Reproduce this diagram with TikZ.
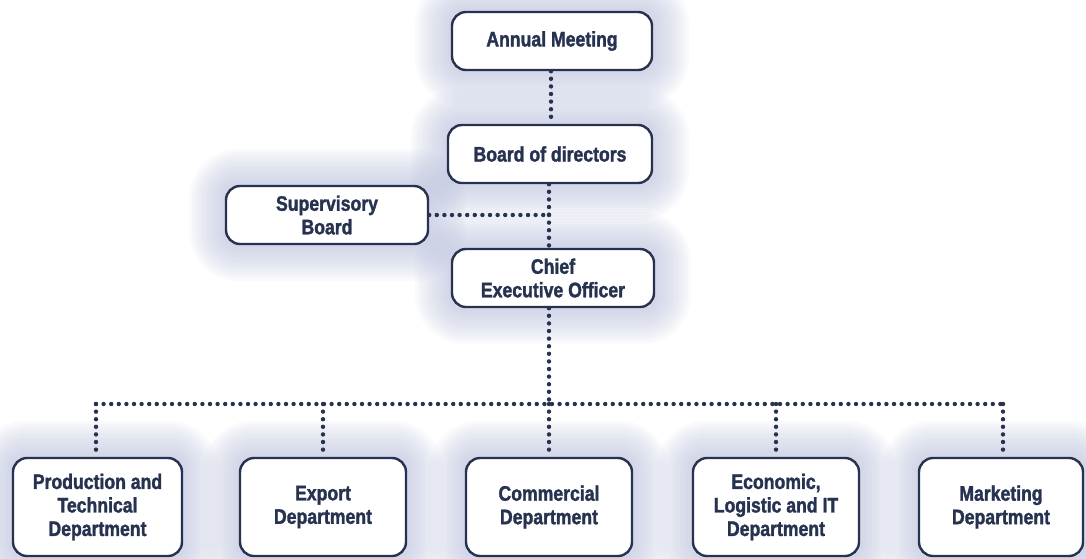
\documentclass[tikz,border=0pt]{standalone}
\usepackage{fontspec}
\setmainfont{Liberation Sans}[FakeStretch=0.84, BoldFeatures={FakeBold=1.6}]
\usetikzlibrary{backgrounds}
\definecolor{navy}{HTML}{26324F}
\definecolor{haze}{HTML}{B4BBD8}
\tikzset{
  x=1pt,y=-1pt,
  box/.style={draw=navy, line width=2.4pt, fill=white, rounded corners=14pt,
    text=navy, font=\bfseries\fontsize{21}{23.5}\selectfont, align=center,
    inner sep=0pt},
  dotline/.style={navy, line width=4.4pt, line cap=round, dash pattern=on 0pt off 7.6pt},
}
\begin{document}
\begin{tikzpicture}
\useasboundingbox (0,0) rectangle (1086,558);
\node[box, minimum width=200pt, minimum height=58pt] (am) at (552,41) {Annual Meeting};
\node[box, minimum width=204pt, minimum height=58pt] (bd) at (550,154) {Board of directors};
\node[box, minimum width=202pt, minimum height=58pt] (sb) at (327,215) {Supervisory\\Board};
\node[box, minimum width=202pt, minimum height=58pt] (ceo) at (553,278) {Chief\\Executive Officer};
\node[box, minimum width=169pt, minimum height=98pt] (pt) at (97.5,507) {Production and\\Technical\\Department};
\node[box, minimum width=166pt, minimum height=98pt] (ex) at (323,507) {Export\\Department};
\node[box, minimum width=166pt, minimum height=98pt] (co) at (549,507) {Commercial\\Department};
\node[box, minimum width=166pt, minimum height=98pt] (ec) at (776,507) {Economic,\\Logistic and IT\\Department};
\node[box, minimum width=164pt, minimum height=98pt] (mk) at (1001,507) {Marketing\\Department};
\begin{scope}[on background layer]
  \foreach \n in {am,bd,sb,ceo,pt,ex,co,ec,mk}{
    \foreach \r in {3,6,...,36}{
      \fill[haze, opacity=0.07, rounded corners=14pt+\r pt]
        ([shift={(-\r pt,-\r pt)}]\n.south west) rectangle ([shift={(\r pt,\r pt)}]\n.north east);
    }
  }
\end{scope}
\coordinate (j1) at (549,215);
\coordinate (j2) at (549,404);
\coordinate (hl) at (96,404);
\coordinate (hr) at (1003,404);
\draw[dotline] (am.south -| 551,0) -- (bd.north -| 551,0);
\draw[dotline] (bd.south -| j1) -- (j1);
\draw[dotline] (sb.east) -- (j1);
\draw[dotline] (j1) -- (ceo.north -| j1);
\draw[dotline] (ceo.south -| j2) -- (j2);
\draw[dotline] (hl) -- (hr);
\draw[dotline] (hl) -- (pt.north -| hl);
\draw[dotline] (ex.north |- j2) -- (ex.north);
\draw[dotline] (j2) -- (co.north -| j2);
\draw[dotline] (ec.north |- j2) -- (ec.north);
\draw[dotline] (hr) -- (mk.north -| hr);
\end{tikzpicture}
\end{document}
